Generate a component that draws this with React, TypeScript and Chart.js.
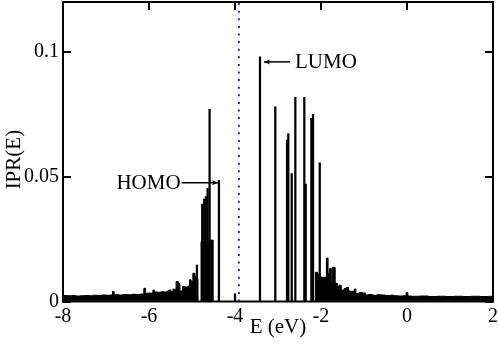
import React, { useEffect, useRef } from "react";
import { Chart, registerables } from "chart.js";

Chart.register(...registerables);

// Isolated eigenstate spikes (E in eV, IPR)
const spikeE = [
  -4.763, -4.716, -4.677, -4.637, -4.591, -4.560, -4.521, -4.374, -4.0,
  -3.419, -3.063, -2.79, -2.76, -2.681, -2.597, -2.388, -2.355, -2.224, -2.185, -2.029,
  -1.855, -1.715,
];
const spikeIPR = [
  0.039, 0.041, 0.042, 0.0453, 0.077, 0.0246, 0.0246, 0.0485, 0.003,
  0.098, 0.078, 0.0647, 0.0673, 0.0513, 0.0818, 0.0818, 0.047, 0.0734, 0.075, 0.0556,
  0.0174, 0.0137,
];

// Dense background of states (stepped, value holds until the next E)
const bgE = [
  -8.0, -7.9, -7.8, -7.7, -7.6, -7.5, -7.4, -7.3, -7.2, -7.1, -7.0, -6.9, -6.85, -6.81,
  -6.7, -6.6, -6.5, -6.4, -6.3, -6.2, -6.12, -6.08, -6.0, -5.94, -5.91, -5.87, -5.8,
  -5.72, -5.65, -5.58, -5.54, -5.49, -5.44, -5.40, -5.37, -5.32, -5.28, -5.22, -5.16,
  -5.10, -5.06, -5.02, -4.98, -4.93, -4.90, -4.87, -4.86, -4.79, -4.53, -4.52,
  -2.13, -2.08, -2.05, -2.0, -1.95, -1.875, -1.84, -1.80, -1.76, -1.72, -1.67, -1.62,
  -1.58, -1.53, -1.46, -1.41, -1.36, -1.34, -1.27, -1.22, -1.19, -1.11, -1.03, -0.97,
  -0.9, -0.8, -0.7, -0.6, -0.5, -0.4, -0.3, -0.2, -0.1, -0.02, 0.02, 0.1, 0.3, 0.5,
  0.7, 0.9, 1.1, 1.3, 1.5, 1.7, 1.9, 2.0,
];
const bgIPR = [
  0.0024, 0.0023, 0.0024, 0.0022, 0.0023, 0.0024, 0.0023, 0.0025, 0.0024, 0.0026, 0.0025, 0.0026, 0.004, 0.0027,
  0.0026, 0.0028, 0.0027, 0.0029, 0.0028, 0.003, 0.0053, 0.0033, 0.0034, 0.0033, 0.0046, 0.0038, 0.0037,
  0.0039, 0.0038, 0.0042, 0.0046, 0.004, 0.005, 0.0048, 0.008, 0.0072, 0.0042, 0.006, 0.0058,
  0.0062, 0.0087, 0.008, 0.0113, 0.01, 0.0146, 0.009, 0.0, 0.024, 0.0, 0.0,
  0.0117, 0.011, 0.01, 0.0097, 0.0097, 0.0173, 0.0113, 0.0133, 0.0075, 0.0137, 0.0073, 0.006,
  0.0065, 0.0046, 0.0052, 0.0056, 0.0045, 0.004, 0.0042, 0.005, 0.0033, 0.0036, 0.0034, 0.0026,
  0.0028, 0.0025, 0.0027, 0.0026, 0.0024, 0.0025, 0.0023, 0.0022, 0.0023, 0.0035, 0.0022, 0.0021, 0.0022, 0.002,
  0.0021, 0.002, 0.0021, 0.002, 0.0021, 0.002, 0.0021, 0.0021,
];

const fermiE = -3.91;

const xTicks = [-8, -6, -4, -2, 0, 2];
const xTickLabels = ["-8", "-6", "-4", "-2", "0", "2"];
const yTicks = [0, 0.05, 0.1];
const yTickLabels = ["0", "0.05", "0.1"];
const xMin = -8;
const xMax = 2;
const yMin = 0;
const yMax = 0.12;

const annLabels = ["HOMO", "LUMO"];
const annTextE = [-5.266, -2.604];
const annTailE = [-5.243, -2.72];
const annTipE = [-4.397, -3.326];
const annY = [0.0476, 0.096];
const annAlign = ["right", "left"];

const FONT = "'Liberation Serif', 'Times New Roman', serif";

const framePlugin = {
  id: "frameAndNotes",
  afterDatasetsDraw(chart: any) {
    const { ctx, chartArea, scales } = chart;
    const xs = scales.x;
    const ys = scales.y;
    ctx.save();
    ctx.strokeStyle = "#000";
    ctx.lineWidth = 2;
    ctx.strokeRect(
      chartArea.left,
      chartArea.top,
      chartArea.right - chartArea.left,
      chartArea.bottom - chartArea.top
    );
    const L = 8;
    ctx.beginPath();
    xTicks.forEach((v) => {
      const px = Math.round(xs.getPixelForValue(v));
      ctx.moveTo(px, chartArea.bottom);
      ctx.lineTo(px, chartArea.bottom - L);
      ctx.moveTo(px, chartArea.top);
      ctx.lineTo(px, chartArea.top + L);
    });
    yTicks.forEach((v) => {
      const py = Math.round(ys.getPixelForValue(v));
      ctx.moveTo(chartArea.left, py);
      ctx.lineTo(chartArea.left + L, py);
      ctx.moveTo(chartArea.right, py);
      ctx.lineTo(chartArea.right - L, py);
    });
    ctx.stroke();

    // annotations with arrows
    ctx.font = `21px ${FONT}`;
    ctx.fillStyle = "#000";
    ctx.textBaseline = "middle";
    ctx.lineWidth = 1.5;
    annLabels.forEach((lab, i) => {
      const py = ys.getPixelForValue(annY[i]);
      const tx = xs.getPixelForValue(annTextE[i]);
      const tail = xs.getPixelForValue(annTailE[i]);
      const tip = xs.getPixelForValue(annTipE[i]);
      ctx.textAlign = annAlign[i] as CanvasTextAlign;
      ctx.fillText(lab, tx, py + 1);
      ctx.beginPath();
      ctx.moveTo(tail, py);
      ctx.lineTo(tip, py);
      ctx.stroke();
      const dir = tip > tail ? 1 : -1;
      ctx.beginPath();
      ctx.moveTo(tip, py);
      ctx.lineTo(tip - dir * 6, py - 2.5);
      ctx.lineTo(tip - dir * 4.5, py);
      ctx.lineTo(tip - dir * 6, py + 2.5);
      ctx.closePath();
      ctx.fill();
    });
    ctx.restore();
  },
};

export default function App() {
  const ref = useRef<HTMLCanvasElement | null>(null);
  useEffect(() => {
    if (!ref.current) return;
    const bgData = bgE.map((e, i) => ({ x: e, y: bgIPR[i] }));
    const spikeData = spikeE.map((e, i) => ({ x: e, y: spikeIPR[i] }));
    const chart = new Chart(ref.current, {
      type: "bar",
      data: {
        datasets: [
          {
            type: "line",
            data: bgData,
            stepped: true,
            fill: "origin",
            borderColor: "#000",
            backgroundColor: "#000",
            borderWidth: 1,
            pointRadius: 0,
            order: 3,
          } as any,
          {
            type: "bar",
            data: spikeData,
            backgroundColor: "#000",
            borderWidth: 0,
            barThickness: 1.6,
            grouped: false,
            order: 2,
          } as any,
          {
            type: "line",
            data: [
              { x: fermiE, y: yMin },
              { x: fermiE, y: yMax },
            ],
            borderColor: "#2020f0",
            borderWidth: 2,
            borderDash: [2, 5.6],
            pointRadius: 0,
            fill: false,
            order: 1,
          } as any,
        ],
      },
      options: {
        responsive: false,
        animation: false,
        layout: { padding: { left: 0, right: 5, top: 2, bottom: 0 } },
        plugins: { legend: { display: false }, tooltip: { enabled: false } },
        scales: {
          x: {
            type: "linear",
            min: xMin,
            max: xMax,
            offset: false,
            grid: { display: false, drawTicks: false },
            border: { display: false },
            afterBuildTicks: (s: any) => {
              s.ticks = xTicks.map((v) => ({ value: v }));
            },
            afterFit: (s: any) => {
              s.height = 43.5;
              s.paddingLeft = 0;
              s.paddingRight = 0;
            },
            ticks: {
              autoSkip: false,
              maxRotation: 0,
              padding: 3,
              color: "#000",
              font: { family: FONT, size: 20 },
              callback: (v: any) => xTickLabels[xTicks.indexOf(Number(v))] ?? "",
            },
            title: {
              display: true,
              text: "E (eV)",
              color: "#000",
              font: { family: FONT, size: 21 },
              padding: { top: 0, bottom: 5 },
            },
          },
          y: {
            type: "linear",
            min: yMin,
            max: yMax,
            grid: { display: false, drawTicks: false },
            border: { display: false },
            afterBuildTicks: (s: any) => {
              s.ticks = yTicks.map((v) => ({ value: v }));
            },
            afterFit: (s: any) => {
              s.width = 63;
              s.paddingTop = 0;
              s.paddingBottom = 0;
            },
            ticks: {
              padding: 4,
              color: "#000",
              font: { family: FONT, size: 20 },
              callback: (v: any) => {
                const i = yTicks.findIndex((t) => Math.abs(t - Number(v)) < 1e-9);
                return i >= 0 ? yTickLabels[i] : "";
              },
            },
            title: {
              display: true,
              text: "IPR(E)\u00a0\u00a0\u00a0",
              color: "#000",
              font: { family: FONT, size: 21 },
              padding: { top: 2, bottom: 0 },
            },
          },
        },
      } as any,
      plugins: [framePlugin],
    });
    return () => chart.destroy();
  }, []);
  return (
    <div style={{ position: "absolute", left: 0, top: 0, width: 498, height: 345, background: "#fff" }}>
      <canvas ref={ref} width={498} height={345} style={{ display: "block" }} />
    </div>
  );
}
